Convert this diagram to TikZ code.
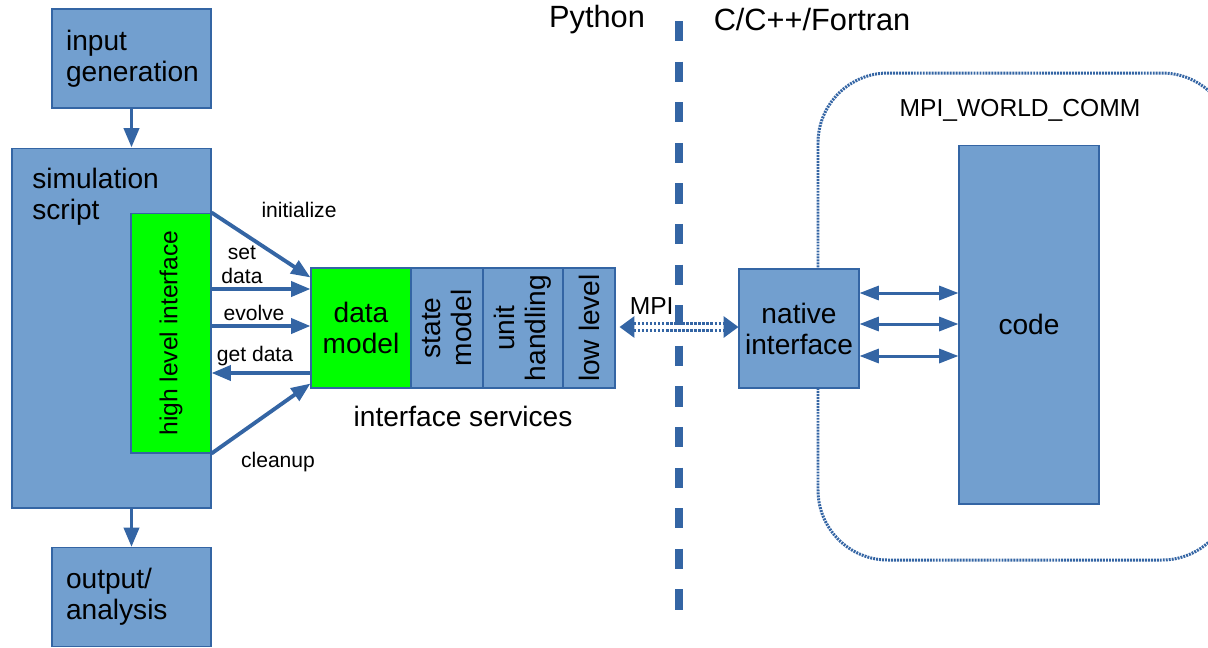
\documentclass[tikz,border=0pt]{standalone}
\usepackage{fontspec}
\setmainfont{Liberation Sans}
\usetikzlibrary{arrows.meta, positioning, calc}

\definecolor{boxfill}{HTML}{729FCF}
\definecolor{boxline}{HTML}{3465A4}
\definecolor{hligreen}{HTML}{00FF00}

\tikzset{
  block/.style={draw=boxline, line width=0.6pt, fill=boxfill, inner sep=0pt},
  greenblock/.style={block, fill=hligreen},
  bigtxt/.style={font=\fontsize{16}{17.6}\selectfont},
  midtxt/.style={font=\fontsize{14}{15.4}\selectfont},
  smalltxt/.style={font=\fontsize{12}{13.5}\selectfont},
  flow/.style={draw=boxline, line width=2.2pt, -{Triangle[length=11pt, width=8.5pt]}},
  link/.style={draw=boxline, line width=1.7pt, {Triangle[length=11pt, width=8pt]}-{Triangle[length=11pt, width=8pt]}},
}

\begin{document}
\begin{tikzpicture}[x=0.02cm, y=-0.02cm]
	\useasboundingbox (0,0) rectangle (1208,647);
	\clip (0,0) rectangle (1208,647);
	
	% Python side
	\node[block, bigtxt, minimum width=3.18cm, minimum height=1.98cm, text width=2.62cm, inner xsep=0.28cm, align=left] (ig) at (131.5,58.5) {input\\generation};
	\node[block, minimum width=3.98cm, minimum height=7.2cm] (sim) at (111.5,328) {};
	\node[bigtxt, anchor=north west, inner sep=0pt, align=left] (simlbl) at (32,168) {simulation\\script};
	\node[greenblock, midtxt, rotate=90, minimum width=4.8cm, minimum height=1.6cm] (hli) at (171,333) {high level interface};
	\node[block, bigtxt, minimum width=3.18cm, minimum height=1.98cm, text width=2.62cm, inner xsep=0.28cm, align=left] (oa) at (131.5,597) {output/\\analysis};
	
	\draw[flow] (ig.south) -- (ig.south |- sim.north);
	\draw[flow] (oa.north |- sim.south) -- (oa.north);
	
	% interface services
	\node[greenblock, bigtxt, minimum width=2cm, minimum height=2.4cm, align=center] (dm) at (361,328) {data\\model};
	\node[block, bigtxt, rotate=90, minimum width=2.4cm, minimum height=1.44cm, align=center] (sm) at (447,328) {state\\model};
	\node[block, bigtxt, rotate=90, minimum width=2.4cm, minimum height=1.6cm, align=center] (uh) at (523,328) {unit\\handling};
	\node[block, bigtxt, rotate=90, minimum width=2.4cm, minimum height=1.04cm, align=center] (ll) at (589,328) {low level};
	\node[bigtxt] (islbl) at (463,416) {interface services};
	
	% calls
	\draw[flow] (hli.east -| sim.east) -- ([yshift=-0.2cm]dm.north west);
	\draw[flow] (sim.east |- 0,289) -- (dm.west |- 0,289);
	\draw[flow] (sim.east |- 0,326) -- (dm.west |- 0,326);
	\draw[flow] (dm.west |- 0,373) -- (sim.east |- 0,373);
	\draw[flow] (hli.west -| sim.east) -- ([yshift=0.1cm]dm.south west);
	\node[smalltxt] (initlbl) at (299,210) {initialize};
	\node[smalltxt, align=center] (setlbl) at (242,265) {set\\data};
	\node[smalltxt] (evolbl) at (254,313) {evolve};
	\node[smalltxt] (getlbl) at (255,356) {get data};
	\node[smalltxt] (cleanlbl) at (278,462) {cleanup};
	
	% language border
	\draw[boxline, line width=0.16cm, dash pattern=on 0.406cm off 0.406cm] (679,21) -- (679,610);
	\node[font=\fontsize{17.5}{19}\selectfont] (pylbl) at (597,20) {Python};
	\node[font=\fontsize{17.5}{19}\selectfont] (clbl) at (812,20) {C/C++/Fortran};
	
	% C side
	\draw[boxline, line width=1.7pt, dash pattern=on 1.1pt off 0.6pt, rounded corners=1.4cm] (818,73) rectangle (1232,560);
	\node[midtxt] (commlbl) at (1020,110) {MPI\_WORLD\_COMM};
	\node[block, bigtxt, minimum width=2.4cm, minimum height=2.38cm, align=center] (ni) at (799,328.5) {native\\interface};
	\node[block, bigtxt, minimum width=2.8cm, minimum height=7.18cm] (code) at (1029,324.5) {code};
	
	\draw[boxline, line width=1.7pt, double distance=2.8pt, dash pattern=on 1.4pt off 0.9pt,
	  {Triangle[length=8.5pt, width=12pt]}-{Triangle[length=8.5pt, width=12pt]}]
	  ([xshift=0.08cm]ll.south |- 0,327) -- (ni.west |- 0,327) node[midtxt, text=black, pos=0.27, above=3pt] (mpilbl) {MPI};
	
	\foreach \y in {293,324,356}
	  \draw[link] (ni.east |- 0,\y) -- (code.west |- 0,\y);
	
\end{tikzpicture}
\end{document}
